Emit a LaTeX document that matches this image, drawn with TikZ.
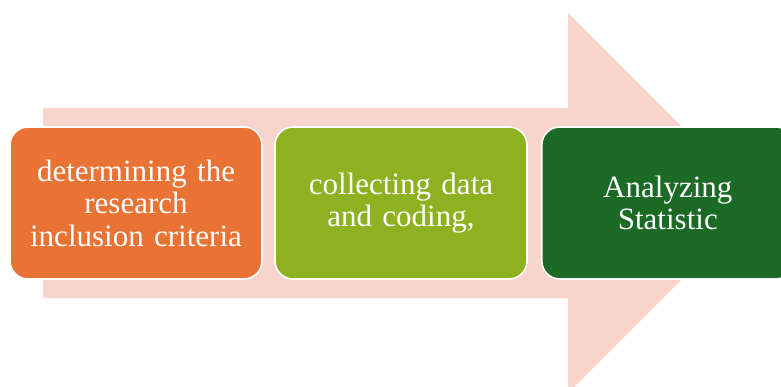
\documentclass[tikz,border=0pt]{standalone}
\usepackage{fontspec}
\setmainfont{Liberation Serif}
\definecolor{arrowpink}{HTML}{F7D4CC}
\definecolor{steporange}{HTML}{E97334}
\definecolor{steplime}{HTML}{8DB121}
\definecolor{stepforest}{HTML}{1B6A26}
\tikzset{
  stepbox/.style={draw=white, line width=1.6pt, rounded corners=18pt,
    minimum width=252pt, minimum height=152pt, inner sep=0pt,
    text=white, align=center, text width=248pt,
    font=\fontsize{31}{32.5}\selectfont},
}
\begin{document}
\begin{tikzpicture}[x=1pt,y=-1pt]
  \useasboundingbox (0,0) rectangle (781,387);
  \clip (0,0) rectangle (781,387);
  % broad background arrow
  \fill[arrowpink] (43,108) -- (568,108) -- (568,13) -- (758,203)
    -- (568,393) -- (568,298) -- (43,298) -- cycle;
  % process steps
  \node[stepbox, fill=steporange] (s1) at (136,203)
    {determining the\\research\\inclusion criteria};
  \node[stepbox, fill=steplime] (s2) at (401,203)
    {collecting data\\and coding,\\[4pt]};
  \node[stepbox, fill=stepforest, anchor=west] (s3) at (541,203)
    {Analyzing\\Statistic\\[4pt]};
\end{tikzpicture}
\end{document}
